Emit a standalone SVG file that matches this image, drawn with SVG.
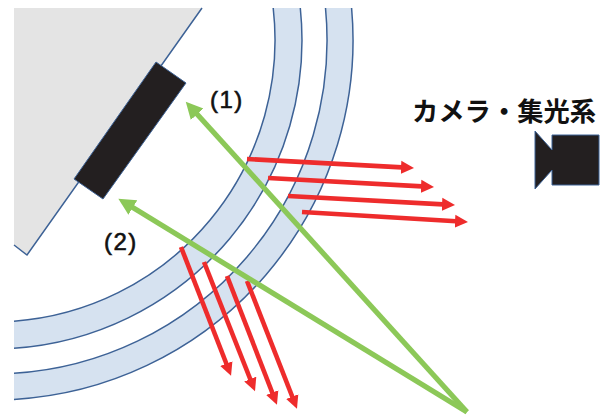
<svg xmlns="http://www.w3.org/2000/svg" width="606" height="416" viewBox="0 0 606 416">
<style>
.band{fill:#d6e2f0;stroke:none}
.edge{fill:none;stroke:#3d6296;stroke-width:1.5}
.red{fill:none;stroke:#ee2c2c;stroke-width:4.6;marker-end:url(#r)}
.green{fill:none;stroke:#8cc858;stroke-width:5.2;marker-end:url(#g)}
.lbl{font-family:"Liberation Sans",Arial,sans-serif;font-size:24px;letter-spacing:1.5px;fill:#111;stroke:#111;stroke-width:.6}
.cam{font-family:"Noto Sans CJK JP",sans-serif;font-size:26.3px;font-weight:700;fill:#111}
.blk{fill:#231f20;stroke:#3d6296;stroke-width:1}
</style>
<defs>
<marker id="r" markerUnits="userSpaceOnUse" markerWidth="14" markerHeight="14" refX="1" refY="7" orient="auto"><path d="M0,0.5 L13,7 L0,13.5 Z" fill="#ee2c2c"/></marker>
<marker id="g" markerUnits="userSpaceOnUse" markerWidth="20" markerHeight="20" refX="1" refY="9" orient="auto"><path d="M0,0.5 L17,9 L0,17.5 Z" fill="#8cc858"/></marker>
</defs>
<g id="holder">
<path d="M14,8 H202 L27,255 L14,245 Z" fill="#e4e4e4"/>
<path d="M202,8 L27,255 L14,245" class="edge"/>
</g>
<g id="sensor"><polygon class="blk" points="156,62 186,83 103,199 74,179"/></g>
<g id="band-inner">
<path class="band" d="M273.2,8 A282,282 0 0 1 14,321.2 V348.3 A309,309 0 0 0 300.3,8 Z"/>
<path class="edge" d="M273.2,8 A282,282 0 0 1 14,321.2"/>
<path class="edge" d="M300.3,8 A309,309 0 0 1 14,348.3"/>
</g>
<g id="band-outer">
<path class="band" d="M325.5,8 A334,334 0 0 1 14,373.3 V399.4 A360,360 0 0 0 351.6,8 Z"/>
<path class="edge" d="M325.5,8 A334,334 0 0 1 14,373.3"/>
<path class="edge" d="M351.6,8 A360,360 0 0 1 14,399.4"/>
</g>
<g id="camera"><polygon class="blk" points="535,131 552,150 552,135 599,135 599,185 552,185 552,170 535,189"/>
<text class="cam" x="412" y="121">カメラ・集光系</text></g>
<g id="connectors">
<line class="red" x1="247" y1="159" x2="402" y2="167.4"/>
<line class="red" x1="268" y1="178" x2="422" y2="186.4"/>
<line class="red" x1="288" y1="196" x2="443" y2="204.4"/>
<line class="red" x1="302" y1="212" x2="456" y2="221.3"/>
<line class="red" x1="181" y1="247" x2="226.7" y2="364.5"/>
<line class="red" x1="204" y1="262" x2="250.6" y2="380"/>
<line class="red" x1="227" y1="276" x2="272.6" y2="393.5"/>
<line class="red" x1="247" y1="281" x2="292.6" y2="397.5"/>
<line class="green" x1="467" y1="412" x2="196.5" y2="113.5"/>
<line class="green" x1="467" y1="412" x2="132" y2="207"/>
</g>
<text class="lbl" x="210" y="108">(1)</text>
<text class="lbl" x="104" y="250">(2)</text>
</svg>
